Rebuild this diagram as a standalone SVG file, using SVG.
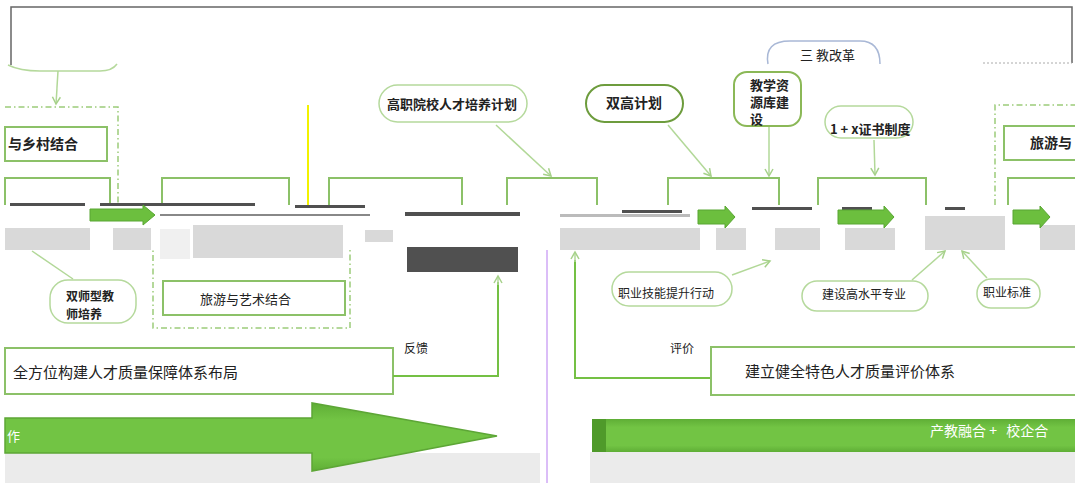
<svg xmlns="http://www.w3.org/2000/svg" width="1075" height="483" viewBox="0 0 1075 483">
<style>
text{font-family:"Noto Sans CJK SC","Liberation Sans",sans-serif;fill:#222}
.b{font-weight:bold}
.box{fill:#fff;stroke:#8cc168;stroke-width:2}
.call{fill:#fff;stroke:#b5d99c;stroke-width:1.5}
.dd{fill:none;stroke:#9ccc7a;stroke-width:1.5;stroke-dasharray:6 3 1.5 3}
.ln{fill:none;stroke:#b2d898;stroke-width:1.5}
.fb{fill:none;stroke:#74c044;stroke-width:2}
.g{fill:#d9d9d9}
.dk{fill:#505050}
.ga{fill:#6cbf3e;stroke:#58a632;stroke-width:1}
</style>
<defs>
<marker id="ah" markerWidth="10" markerHeight="10" refX="8" refY="5" orient="auto" markerUnits="userSpaceOnUse">
<path d="M1,1 L8,5 L1,9" fill="none" stroke="#a6d18a" stroke-width="1.5"/>
</marker>
<linearGradient id="bar" x1="0" y1="0" x2="0" y2="1">
<stop offset="0" stop-color="#5fae36"/><stop offset="0.25" stop-color="#72c444"/><stop offset="0.8" stop-color="#72c444"/><stop offset="1" stop-color="#5fae36"/>
</linearGradient>
</defs>
<rect width="1075" height="483" fill="#fff"/>

<g id="frame">
<path d="M11,65 V7 H1072 V63" fill="none" stroke="#666" stroke-width="1.5"/>
<path d="M983,63 H1072" fill="none" stroke="#aaa" stroke-width="1" stroke-dasharray="2 2"/>
<path d="M8,65 Q20,71 40,71 H100 Q112,71 117,64" fill="none" stroke="#b5d99c" stroke-width="1.5"/>
</g>

<g id="groups">
<path class="dd" d="M5,107 H118 V205"/>
<path class="dd" d="M153,228 V328 H350 V228"/>
<path class="dd" d="M995,205 V105 H1075"/>
<line x1="308" y1="105" x2="308" y2="210" stroke="#f2f200" stroke-width="2"/>
<line x1="547" y1="240" x2="547" y2="483" stroke="#b77cf0" stroke-width="1"/>
</g>

<g id="row-boxes">
<rect class="box" x="5" y="178" width="105" height="40"/>
<rect class="box" x="162" y="178" width="127" height="40"/>
<rect class="box" x="329" y="178" width="133" height="40"/>
<rect class="box" x="507" y="178" width="90" height="40"/>
<rect class="box" x="668" y="178" width="111" height="40"/>
<rect class="box" x="818" y="178" width="108" height="40"/>
<rect class="box" x="1008" y="178" width="70" height="40"/>
</g>

<g id="glitch-band">
<rect x="0" y="205" width="1075" height="45" fill="#fff"/>
<rect class="g" x="5" y="228" width="85" height="22"/>
<rect class="g" x="113" y="228" width="38" height="22"/>
<rect class="g" x="193" y="225" width="150" height="33"/>
<rect fill="#f0f0f0" x="160" y="229" width="30" height="30"/>
<rect class="g" x="365" y="230" width="28" height="12"/>
<rect class="g" x="560" y="228" width="140" height="22"/>
<rect class="g" x="716" y="228" width="30" height="22"/>
<rect class="g" x="775" y="228" width="45" height="22"/>
<rect class="g" x="845" y="228" width="50" height="22"/>
<rect class="g" x="925" y="216" width="80" height="34"/>
<rect class="g" x="1040" y="225" width="35" height="25"/>
<rect class="dk" x="10" y="203" width="75" height="3"/>
<rect class="dk" x="100" y="203" width="155" height="3"/>
<rect class="dk" x="295" y="205" width="70" height="3"/>
<rect class="dk" x="405" y="212" width="115" height="4"/>
<rect class="dk" x="407" y="247" width="111" height="25"/>
<rect class="dk" x="622" y="210" width="60" height="3"/>
<rect class="dk" x="752" y="207" width="60" height="3"/>
<rect class="dk" x="842" y="207" width="30" height="3"/>
<rect class="dk" x="945" y="207" width="20" height="3"/>
<rect fill="#888" x="160" y="214" width="210" height="2"/>
<rect fill="#bbb" x="560" y="214" width="130" height="3"/>
<polygon class="ga" points="90,209 143,209 143,205 155,215 143,225 143,221 90,221"/>
<polygon class="ga" points="698,210 725,210 725,206 735,217 725,228 725,224 698,224"/>
<polygon class="ga" points="838,210 884,210 884,206 894,217 884,228 884,224 838,224"/>
<polygon class="ga" points="1013,210 1040,210 1040,206 1050,217 1040,228 1040,224 1013,224"/>
</g>

<g id="n-xiangcun"><rect class="box" x="5" y="127" width="102" height="34"/><text class="b" x="8" y="149" font-size="14">与乡村结合</text></g>
<g id="n-lvyou-right"><rect class="box" x="1004" y="126" width="75" height="34"/><text class="b" x="1030" y="148" font-size="14">旅游与</text></g>
<g id="n-gaozhi"><rect class="call" x="379" y="85" width="148" height="37" rx="18.5"/><text class="b" x="387" y="109" font-size="13">高职院校人才培养计划</text></g>
<g id="n-shuanggao"><rect x="586" y="85" width="97" height="37" rx="18.5" fill="#fff" stroke="#6d9c3d" stroke-width="2"/><text class="b" x="606" y="108" font-size="14">双高计划</text></g>
<g id="n-ziyuanku"><rect x="734" y="72" width="67" height="54" rx="13" fill="#fff" stroke="#8bb857" stroke-width="2"/><text class="b" font-size="13"><tspan x="750" y="90">教学资</tspan><tspan x="750" y="107">源库建</tspan><tspan x="750" y="124">设</tspan></text></g>
<g id="n-sanjiao"><path d="M768,64 Q764,41 790,41 H860 Q880,41 880,64" fill="#fff" stroke="#a9b8d6" stroke-width="1.5"/><text x="800" y="60" font-size="13">三 教改革</text></g>
<g id="n-1x"><rect class="call" x="825" y="106" width="88" height="32" rx="16"/><text class="b" x="830" y="134" font-size="13">1 + x证书制度</text></g>
<g id="n-shuangshi"><rect class="call" x="50" y="280" width="86" height="43" rx="18"/><text class="b" font-size="12"><tspan x="66" y="301">双师型教</tspan><tspan x="66" y="319">师培养</tspan></text></g>
<g id="n-lvyou-yishu"><rect class="box" x="163" y="281" width="182" height="34"/><text x="200" y="304" font-size="13">旅游与艺术结合</text></g>
<g id="n-jineng"><rect class="call" x="612" y="272" width="120" height="34" rx="17"/><text x="618" y="298" font-size="12">职业技能提升行动</text></g>
<g id="n-gaoshuiping"><rect class="call" x="802" y="281" width="126" height="30" rx="15"/><text x="822" y="299" font-size="12">建设高水平专业</text></g>
<g id="n-biaozhun"><rect class="call" x="977" y="279" width="63" height="29" rx="14"/><text x="983" y="297" font-size="12">职业标准</text></g>
<g id="n-baozhang"><rect class="box" x="5" y="348" width="388" height="46"/><text x="13" y="378" font-size="15">全方位构建人才质量保障体系布局</text></g>
<g id="n-pingjia"><rect class="box" x="711" y="347" width="370" height="48"/><text x="745" y="377" font-size="15">建立健全特色人才质量评价体系</text></g>

<g id="connectors">
<line class="ln" x1="58" y1="71" x2="56" y2="104" marker-end="url(#ah)"/>
<line class="ln" x1="496" y1="125" x2="551" y2="176" marker-end="url(#ah)"/>
<line class="ln" x1="668" y1="125" x2="711" y2="176" marker-end="url(#ah)"/>
<line class="ln" x1="769" y1="127" x2="769" y2="176" marker-end="url(#ah)"/>
<line class="ln" x1="874" y1="140" x2="875" y2="175" marker-end="url(#ah)"/>
<line class="ln" x1="73" y1="279" x2="32" y2="251"/>
<line class="ln" x1="732" y1="275" x2="770" y2="261" marker-end="url(#ah)"/>
<line class="ln" x1="912" y1="280" x2="945" y2="251" marker-end="url(#ah)"/>
<line class="ln" x1="987" y1="278" x2="962" y2="251" marker-end="url(#ah)"/>
<path class="fb" d="M393,376 H498 V282"/>
<line class="ln" x1="498" y1="285" x2="498" y2="276" marker-end="url(#ah)"/>
<path class="fb" d="M710,378 H575 V260"/>
<line class="ln" x1="575" y1="262" x2="575" y2="252" marker-end="url(#ah)"/>
<text x="404" y="353" font-size="12">反馈</text>
<text x="670" y="353" font-size="12">评价</text>
</g>

<g id="bottom-bands">
<rect x="5" y="453" width="535" height="30" fill="#ebebeb"/>
<polygon points="5,418 312,418 312,403 497,436 312,471 312,453 5,453" fill="url(#bar)" stroke="#5da636" stroke-width="1.5"/>
<text x="7" y="441" font-size="13" style="fill:#fff">作</text>
<rect x="590" y="452" width="485" height="31" fill="#ebebeb"/>
<rect x="592" y="419" width="483" height="33" fill="url(#bar)"/>
<rect x="592" y="419" width="14" height="33" fill="#4f9a2a"/>
<text x="930" y="436" font-size="14" style="fill:#fff;white-space:pre">产教融合 +   校企合</text>
</g>
</svg>
